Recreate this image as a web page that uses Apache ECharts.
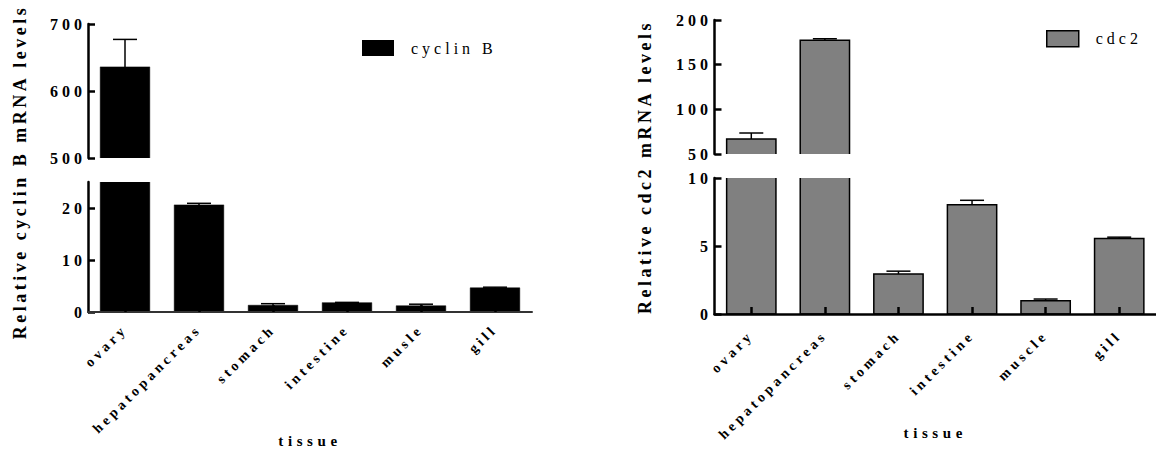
<!DOCTYPE html>
<html>
<head>
<meta charset="utf-8">
<script src="https://cdn.jsdelivr.net/npm/echarts@6/dist/echarts.min.js"></script>
<style>
html,body{margin:0;padding:0;background:#fff;}
#chart{width:1156px;height:449px;}
#chart text{letter-spacing:0.25em;}
#chart text[style*="18px"]{letter-spacing:3.5px;}
#chart text[style*="16px"]{letter-spacing:4px;}
#chart text[style*="14px"]{letter-spacing:3.8px;}
#chart text[style*="15px"]{letter-spacing:4.6px;}
</style>
</head>
<body>
<div id="chart"></div>
<script>
// ---- data ----
const tissuesCyclin = ['ovary', 'hepatopancreas', 'stomach', 'intestine', 'musle', 'gill'];
const cyclinMean = [636, 20.6, 1.3, 1.8, 1.2, 4.65];
const cyclinErr = [41, 0.3, 0.3, 0.05, 0.3, 0.12];

const tissuesCdc2 = ['ovary', 'hepatopancreas', 'stomach', 'intestine', 'muscle', 'gill'];
const cdc2Mean = [66.8, 177.3, 2.95, 8.04, 0.98, 5.55];
const cdc2Err = [6.7, 1.7, 0.2, 0.32, 0.12, 0.1];

// axis segments [min, max, interval]
const cyclinUpper = [500, 700, 100];
const cyclinLower = [0, 25, 10];
const cdc2Upper = [50, 200, 50];
const cdc2Lower = [0, 10, 5];

const FONT = 'Liberation Serif';

function toData(means, errs) {
  return means.map((m, i) => [i, m, errs[i]]);
}

function makeRender(fill, stroke, lw) {
  return function (params, api) {
    const i = api.value(0), v = api.value(1), e = api.value(2);
    const band = api.size([1, 0])[0];
    const bw = band * 0.67;
    const top = api.coord([i, v]);
    const base = api.coord([i, 0]);
    const errTop = api.coord([i, v + e]);
    const capW = 24;
    return {
      type: 'group',
      children: [
        { type: 'rect', shape: { x: top[0] - bw / 2, y: top[1], width: bw, height: base[1] - top[1] },
          style: { fill: fill, stroke: stroke, lineWidth: lw } },
        { type: 'line', shape: { x1: top[0], y1: top[1], x2: top[0], y2: errTop[1] },
          style: { stroke: '#000', lineWidth: 1.5 } },
        { type: 'line', shape: { x1: top[0] - capW / 2, y1: errTop[1], x2: top[0] + capW / 2, y2: errTop[1] },
          style: { stroke: '#000', lineWidth: 1.5 } }
      ]
    };
  };
}

function yAx(gi, seg, margin, hideMax) {
  return {
    type: 'value', gridIndex: gi, min: seg[0], max: seg[1], interval: seg[2],
    splitLine: { show: false },
    axisLine: { show: true, lineStyle: { color: '#000', width: 2.5 } },
    axisTick: { show: true, inside: true, length: 7, lineStyle: { color: '#000', width: 2.5 } },
    axisLabel: { show: true, margin: margin, color: '#000', fontFamily: FONT, fontSize: 16, fontWeight: 'bold',
      showMaxLabel: !hideMax }
  };
}

function xAxHidden(gi, cats) {
  return { type: 'category', gridIndex: gi, data: cats, show: false };
}

function xAxShown(gi, cats, lineColor, lw, labelMargin, nameGap) {
  return {
    type: 'category', gridIndex: gi, data: cats, z: 5,
    name: 'tissue', nameLocation: 'middle', nameGap: nameGap,
    nameTextStyle: { fontFamily: FONT, fontSize: 15, fontWeight: 'bold', color: '#000' },
    axisLine: { show: true, lineStyle: { color: lineColor, width: lw } },
    axisTick: { show: true, inside: true, alignWithLabel: true, length: 7, lineStyle: { color: '#000', width: 2.5 } },
    axisLabel: { interval: 0, rotate: 45, margin: labelMargin, color: '#000', fontFamily: FONT, fontSize: 14, fontWeight: 'bold' }
  };
}

const chart = echarts.init(document.getElementById('chart'), null, { renderer: 'svg' });

chart.setOption({
  animation: false,
  backgroundColor: '#fff',
  grid: [
    { left: 88, top: 24, width: 444, height: 134 },
    { left: 88, top: 182, width: 444, height: 137 },
    { left: 714.5, top: 20, width: 442, height: 134 },
    { left: 714.5, top: 178, width: 442, height: 136 }
  ],
  xAxis: [
    xAxHidden(0, tissuesCyclin),
    xAxShown(1, tissuesCyclin, '#333', 2, 15, 121),
    xAxHidden(2, tissuesCdc2),
    xAxShown(3, tissuesCdc2, '#000', 2.5, 19, 111)
  ],
  yAxis: [
    yAx(0, cyclinUpper, 2, false),
    yAx(1, cyclinLower, 2, true),
    yAx(2, cdc2Upper, 2.5, false),
    yAx(3, cdc2Lower, 2.5, false)
  ],
  legend: [
    { data: [{ name: 'cyclin B', icon: 'rect', itemStyle: { color: '#000', borderWidth: 0 } }],
      left: 362, top: 40, itemWidth: 32, itemHeight: 16, padding: 0, selectedMode: false,
      textStyle: { fontFamily: FONT, fontSize: 16, color: '#000', padding: [0, 0, 0, 12] } },
    { data: [{ name: 'cdc2', icon: 'rect', itemStyle: { color: '#808080', borderColor: '#000', borderWidth: 1.5 } }],
      left: 1046, top: 30, itemWidth: 32, itemHeight: 16, padding: 0, selectedMode: false,
      textStyle: { fontFamily: FONT, fontSize: 16, color: '#000', padding: [0, 0, 0, 12] } }
  ],
  graphic: [
    { type: 'text', x: 20, y: 172, rotation: Math.PI / 2,
      style: { text: 'Relative cyclin B mRNA levels', fontFamily: FONT, fontSize: 18, fontWeight: 'bold',
        fill: '#000', textAlign: 'center', textVerticalAlign: 'middle' } },
    { type: 'text', x: 645, y: 167, rotation: Math.PI / 2,
      style: { text: 'Relative cdc2 mRNA levels', fontFamily: FONT, fontSize: 18, fontWeight: 'bold',
        fill: '#000', textAlign: 'center', textVerticalAlign: 'middle' } }
  ],
  series: [
    { type: 'custom', name: 'cyclin B', xAxisIndex: 0, yAxisIndex: 0, clip: true,
      itemStyle: { color: '#000' }, encode: { x: 0, y: 1 },
      data: toData(cyclinMean, cyclinErr), renderItem: makeRender('#000', '#000', 0.5) },
    { type: 'custom', name: 'cyclin B', xAxisIndex: 1, yAxisIndex: 1, clip: true,
      itemStyle: { color: '#000' }, encode: { x: 0, y: 1 },
      data: toData(cyclinMean, cyclinErr), renderItem: makeRender('#000', '#000', 0.5) },
    { type: 'custom', name: 'cdc2', xAxisIndex: 2, yAxisIndex: 2, clip: true,
      itemStyle: { color: '#808080' }, encode: { x: 0, y: 1 },
      data: toData(cdc2Mean, cdc2Err), renderItem: makeRender('#808080', '#000', 1.5) },
    { type: 'custom', name: 'cdc2', xAxisIndex: 3, yAxisIndex: 3, clip: true,
      itemStyle: { color: '#808080' }, encode: { x: 0, y: 1 },
      data: toData(cdc2Mean, cdc2Err), renderItem: makeRender('#808080', '#000', 1.5) }
  ]
});
</script>
</body>
</html>
